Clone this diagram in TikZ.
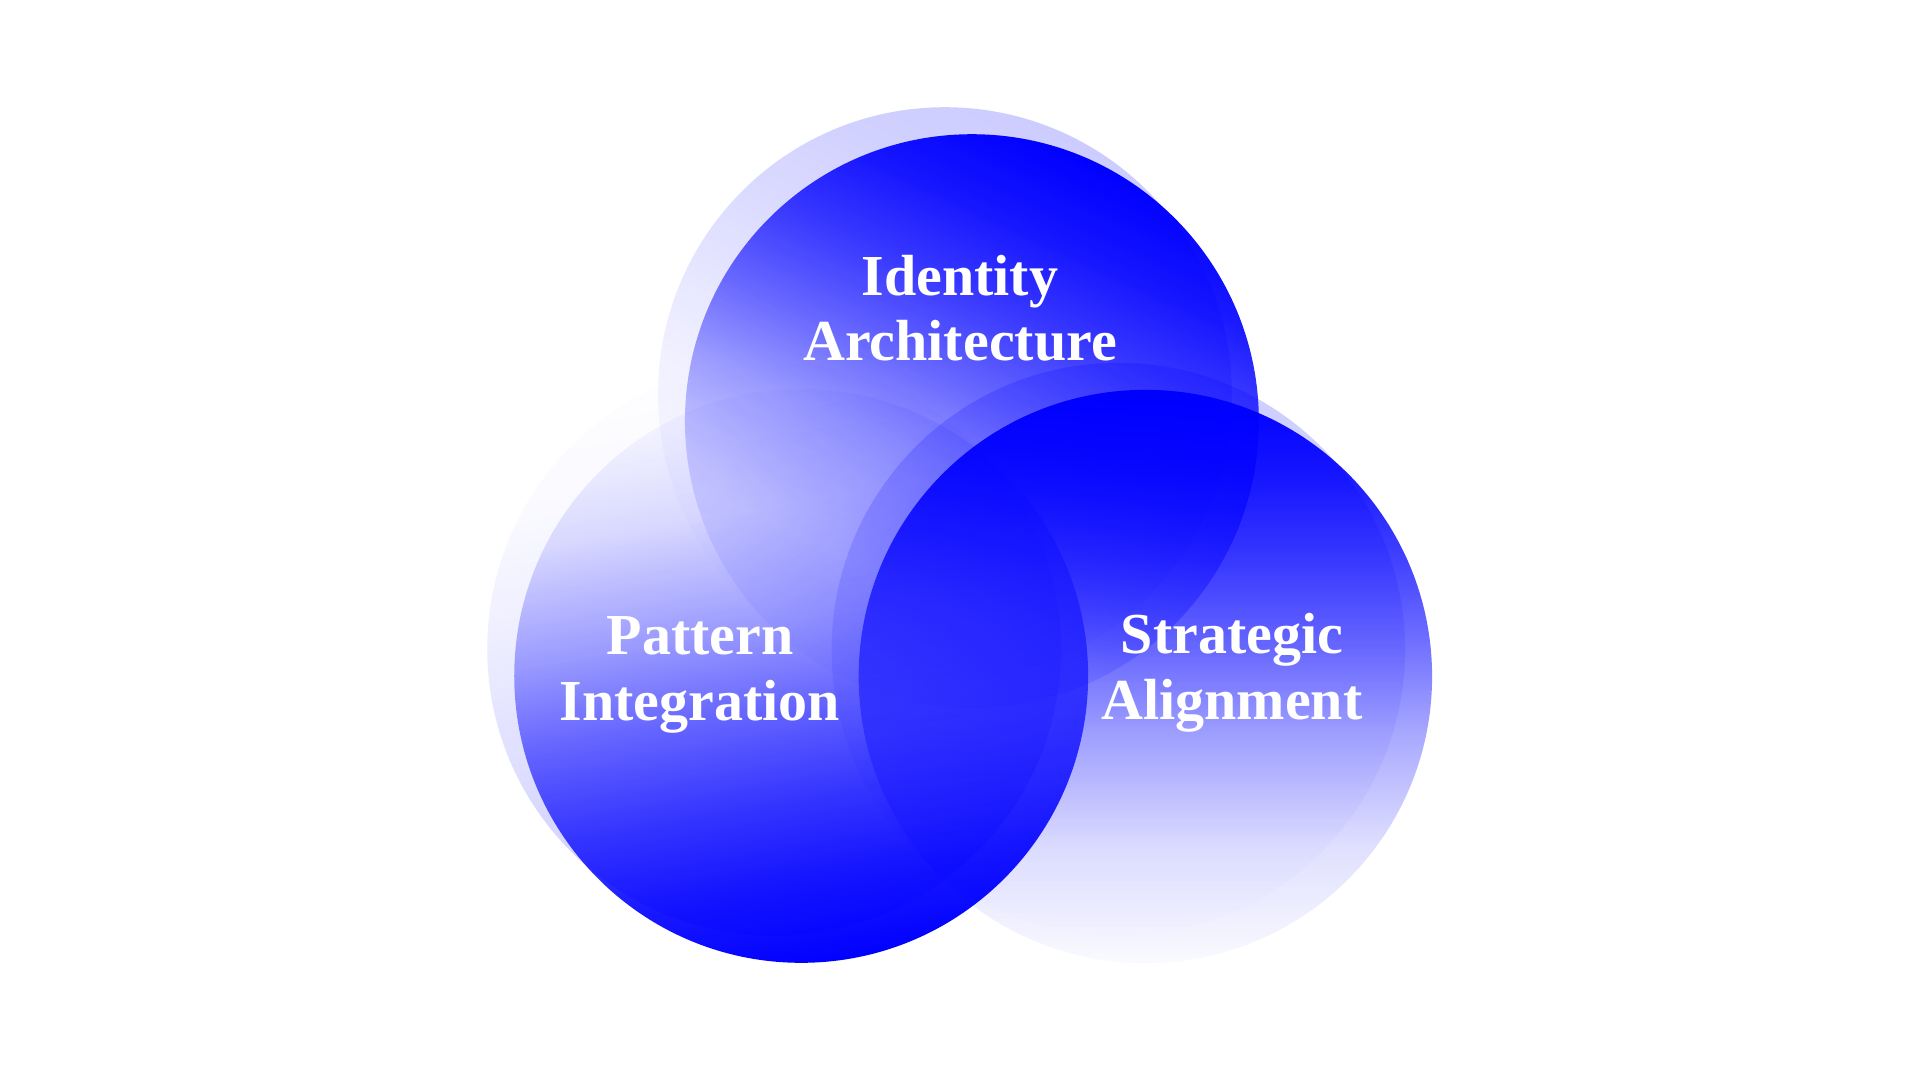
\documentclass[tikz,border=0pt]{standalone}
\usepackage{fontspec}
\setmainfont{Liberation Serif}
\usetikzlibrary{fadings}
% fit fading maps the central 50bp x 50bp of the fading onto the path's box
\pgfdeclareverticalshading{circfadesh}{100bp}{color(0bp)=(black!98); color(25bp)=(black!98); color(35bp)=(black!88); color(45bp)=(black!66); color(52.5bp)=(black!45); color(60bp)=(black!26); color(67.5bp)=(black!10); color(75bp)=(white); color(100bp)=(white)}
\pgfdeclarefading{circfade}{\pgfuseshading{circfadesh}}
\definecolor{vblue}{RGB}{0,0,255}
\tikzset{
  orb/.style={fill=vblue, path fading=circfade},
  halo/.style={fill=vblue, fill opacity=0.2, path fading=circfade},
  orbtext/.style={text=white, font=\fontsize{58}{65.5}\selectfont\bfseries, align=center, inner sep=0pt}
}
\begin{document}
\begin{tikzpicture}[x=1pt,y=-1pt]
\fill[white] (0,0) rectangle (1920,1080);
\useasboundingbox (0,0) rectangle (1920,1080);
% top circle
\fill[halo, fading angle=-25] (945,394) circle[radius=287pt];
\fill[orb, fading angle=-25] (972,421) circle[radius=287pt];
% left circle
\fill[halo, fading angle=190] (774,649) circle[radius=287pt];
\fill[orb, fading angle=190] (801,676) circle[radius=287pt];
% right circle
\fill[halo] (1119,649) circle[radius=287pt];
\fill[orb] (1146,676) circle[radius=287pt];
% labels
\node[orbtext] (ident) at (960,308) {Identity\\Architecture};
\node[orbtext] (patt) at (700,675) {Pattern\\Integration};
\node[orbtext] (strat) at (1232,673) {Strategic\\Alignment};
\end{tikzpicture}
\end{document}
